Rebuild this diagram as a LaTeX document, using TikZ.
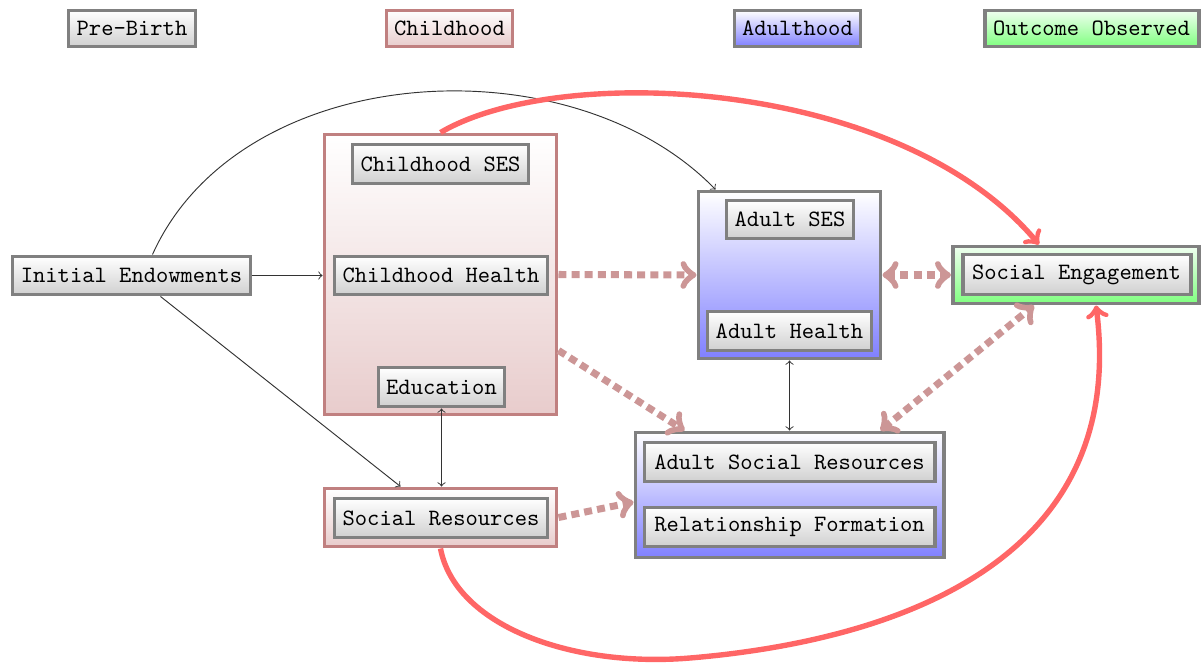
\documentclass[tikz,border=0pt]{standalone}
\usetikzlibrary{calc}
\definecolor{pinkb}{RGB}{192,128,128}
\definecolor{pinkf}{RGB}{232,204,204}
\definecolor{dotc}{RGB}{204,150,150}
\definecolor{redc}{RGB}{255,102,102}
\definecolor{blu}{RGB}{128,128,255}
\definecolor{grn}{RGB}{128,255,128}
\definecolor{grnt}{RGB}{240,255,240}
\definecolor{innerb}{RGB}{208,208,208}
\tikzset{
 box/.style={draw=gray, line width=1.7pt, inner sep=0pt, font=\ttfamily, text=black},
 var/.style={box, top color=white, bottom color=innerb},
 childbox/.style={box, draw=pinkb, top color=white, bottom color=pinkf},
 adultbox/.style={box, top color=white, bottom color=blu},
 outbox/.style={box, top color=grnt, bottom color=grn},
 thinarrow/.style={->, black!80, line width=0.4pt},
 thinboth/.style={<->, black!80, line width=0.4pt},
 dotarrow/.style={->, dotc, line width=3pt, dash pattern=on 3.4pt off 2.2pt},
 redarrow/.style={->, redc, line width=2.3pt},
}
\begin{document}
\begin{tikzpicture}[x=0.427pt, y=-0.427pt]
\useasboundingbox (0,0) rectangle (1202,664);
% legend
\node[var, minimum width=127*0.427pt, minimum height=36*0.427pt] (pb) at (132,28.5) {Pre-Birth};
\node[childbox, minimum width=126*0.427pt, minimum height=36*0.427pt] (chl) at (449.5,28.5) {Childhood};
\node[adultbox, minimum width=126*0.427pt, minimum height=36*0.427pt] (adl) at (797.5,28.5) {Adulthood};
\node[outbox, minimum width=214*0.427pt, minimum height=36*0.427pt] (ool) at (1091.5,28.5) {Outcome Observed};
% containers
\node[childbox, minimum width=232*0.427pt, minimum height=280*0.427pt] (chbox) at (440.5,274.5) {};
\node[childbox, minimum width=232*0.427pt, minimum height=58*0.427pt] (srbox) at (440.5,517.5) {};
\node[adultbox, minimum width=182*0.427pt, minimum height=167*0.427pt] (adbox) at (789.5,275) {};
\node[adultbox, minimum width=308*0.427pt, minimum height=125*0.427pt] (asbox) at (789.5,495) {};
\node[outbox, minimum width=246*0.427pt, minimum height=57*0.427pt] (sebox) at (1076,275) {};
% variables
\node[var, minimum width=238*0.427pt, minimum height=38*0.427pt] (ie) at (131.5,275.5) {Initial Endowments};
\node[var, minimum width=176*0.427pt, minimum height=39*0.427pt] (chses) at (440.5,164) {Childhood SES};
\node[var, minimum width=213*0.427pt, minimum height=38*0.427pt] (chh) at (441,275.5) {Childhood Health};
\node[var, minimum width=126*0.427pt, minimum height=39*0.427pt] (edu) at (441.5,387) {Education};
\node[var, minimum width=213*0.427pt, minimum height=39*0.427pt] (sr) at (441,518) {Social Resources};
\node[var, minimum width=127*0.427pt, minimum height=38*0.427pt] (adses) at (790,219.5) {Adult SES};
\node[var, minimum width=164*0.427pt, minimum height=39*0.427pt] (adh) at (789.5,331) {Adult Health};
\node[var, minimum width=290*0.427pt, minimum height=39*0.427pt] (asr) at (789.5,462) {Adult Social Resources};
\node[var, minimum width=290*0.427pt, minimum height=39*0.427pt] (rf) at (789.5,527) {Relationship Formation};
\node[var, minimum width=228*0.427pt, minimum height=40*0.427pt] (se) at (1076.5,274.5) {Social Engagement};
% thin connectors
\draw[thinarrow] (ie.east) -- (ie.east -| chbox.west);
\coordinate (arcend) at ($(adbox.north west)+(19,0)$);
\draw[thinarrow] (ie.45) .. controls (240,60) and (570,40) .. (arcend);
\coordinate (ieb) at ($(ie.south)+(29,0)$);
\coordinate (srt) at ($(srbox.north)+(-40,0)$);
\draw[thinarrow] (ieb) -- (srt);
\draw[thinboth] (edu.south) -- (edu.south |- srbox.north);
\draw[thinboth] (adbox.south) -- (asbox.north);
% dotted connectors
\coordinate (chlow) at ($(chbox.south east)+(0,-66)$);
\coordinate (asin) at ($(asbox.north west)+(51,0)$);
\coordinate (aswest) at ($(asbox.west)+(0,7)$);
\coordinate (asne) at ($(asbox.north east)+(-65,0)$);
\coordinate (sesw) at ($(sebox.south)+(-42,0)$);
\draw[dotarrow] (chbox.east) -- (adbox.west);
\draw[dotarrow] (chlow) -- (asin);
\draw[dotarrow] (srbox.east) -- (aswest);
\draw[dotarrow, <->] (adbox.east) -- (sebox.west);
\draw[dotarrow, <->] (asne) -- (sesw);
% red connectors
\coordinate (rt) at ($(sebox.north)+(-37,0)$);
\coordinate (rb) at ($(sebox.south)+(20,0)$);
\draw[redarrow] (chbox.north) .. controls (560,62) and (900,78) .. (rt);
\draw[redarrow] (srbox.south) .. controls (455,625) and (570,668) .. (690,658) .. controls (880,642) and (1130,570) .. (rb);
\end{tikzpicture}
\end{document}
